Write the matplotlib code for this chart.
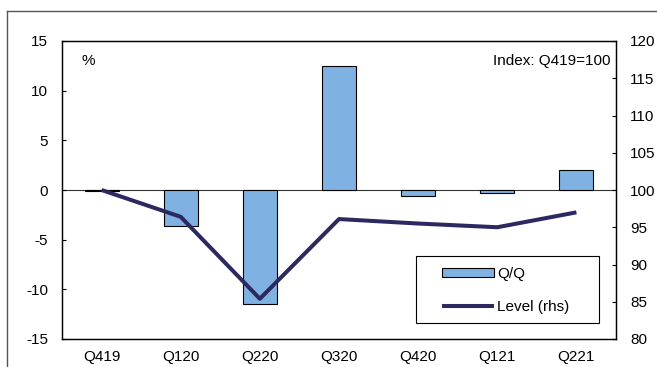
import matplotlib
matplotlib.use("Agg")
import matplotlib.pyplot as plt
from matplotlib.lines import Line2D
from matplotlib.patches import Rectangle

plt.rcParams['font.family'] = ['Liberation Sans', 'DejaVu Sans']
plt.rcParams['axes.unicode_minus'] = False

quarters = ["Q419", "Q120", "Q220", "Q320", "Q420", "Q121", "Q221"]
qoq_change = [-0.1, -3.6, -11.5, 12.5, -0.6, -0.3, 2.0]
level_index = [100.0, 96.4, 85.4, 96.1, 95.5, 95.0, 97.0]

bar_color = "#7FB2E3"
line_color = "#2B2960"
fs = 11

W, H = 657, 367
fig = plt.figure(figsize=(W / 100, H / 100), dpi=100)
ax = fig.add_axes([62 / W, 1 - 339 / H, (616 - 62) / W, (339 - 41) / H])

x = list(range(len(quarters)))
ax.bar(x, qoq_change, width=0.43, color=bar_color, edgecolor="black",
       linewidth=0.8, label="Q/Q", zorder=2)
ax.axhline(0, color="#333333", linewidth=0.8, zorder=1)
ax.set_xlim(-0.5, len(quarters) - 0.5)
ax.set_ylim(-15, 15)
ax.set_yticks(range(-15, 16, 5))
ax.set_xticks(x)
ax.set_xticklabels(quarters)
ax.tick_params(axis="y", direction="in", length=3, pad=10, labelsize=fs)
ax.tick_params(axis="x", length=0, pad=8, labelsize=fs)

ax2 = ax.twinx()
line, = ax2.plot(x, level_index, color=line_color, linewidth=2.9,
                 solid_capstyle="butt", label="Level (rhs)", zorder=3)
ax2.set_ylim(80, 120)
ax2.set_yticks(range(80, 121, 5))
ax2.tick_params(axis="y", direction="in", length=3, pad=10, labelsize=fs)

for a in (ax, ax2):
    for s in a.spines.values():
        s.set_linewidth(0.9)
        s.set_color("black")

ax.text(0.035, 0.955, "%", transform=ax.transAxes, fontsize=fs,
        ha="left", va="top")
ax.text(0.99, 0.955, "Index: Q419=100", transform=ax.transAxes,
        fontsize=fs, ha="right", va="top")

# legend box with generous side padding
ax2.add_patch(Rectangle((0.639, 0.054), 0.330, 0.225, transform=ax2.transAxes,
                        facecolor="white", edgecolor="black", linewidth=0.8,
                        zorder=4))
handles = [ax.containers[0], line]
leg = ax2.legend(handles, ["Q/Q", "Level (rhs)"], loc="center left",
                 bbox_to_anchor=(0.686, 0.163), fontsize=fs, frameon=False,
                 handlelength=3.4, handleheight=0.55, borderpad=0,
                 labelspacing=1.25, handletextpad=0.2, borderaxespad=0)
leg.set_zorder(5)

# outer frame around the exhibit
fig.add_artist(Line2D([7 / W, 1], [1 - 11 / H, 1 - 11 / H],
                      transform=fig.transFigure, color="#555555", linewidth=1))
fig.add_artist(Line2D([7 / W, 7 / W], [0, 1 - 11 / H],
                      transform=fig.transFigure, color="#555555", linewidth=1))

fig.savefig("out.png", dpi=100)
